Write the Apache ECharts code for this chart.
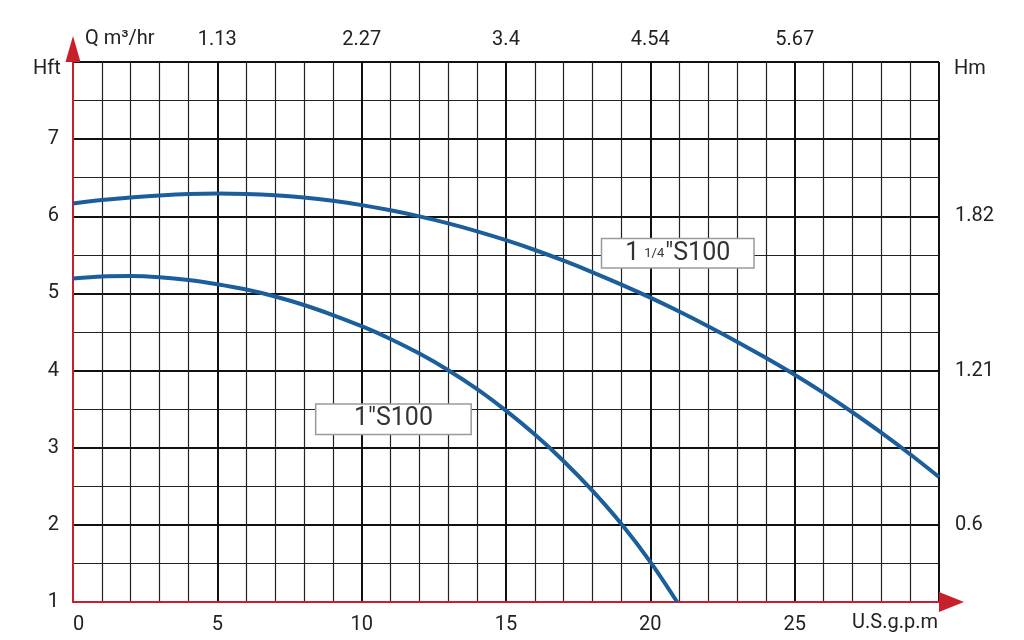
<!DOCTYPE html>
<html>
<head>
<meta charset="utf-8">
<script src="https://cdn.jsdelivr.net/npm/echarts@6/dist/echarts.min.js"></script>
<style>html,body{margin:0;padding:0;background:#fff;}#c{width:1024px;height:640px;}</style>
</head>
<body>
<div id="c"></div>
<script>
// ---- data ----
var flow1 = [0,1,2,3,4,5,6,7,8,9,10,11,12,13,14,15,16,17,18,19,20,21,22,23,24,25,26,27,28,29,30];
var head1 = [6.165,6.21,6.245,6.27,6.288,6.295,6.29,6.273,6.243,6.2,6.145,6.078,5.999,5.908,5.805,5.69,5.563,5.424,5.274,5.114,4.945,4.765,4.575,4.375,4.165,3.945,3.71,3.46,3.195,2.915,2.62];
var flow2 = [0,1,2,3,4,5,6,7,8,9,10,11,12,13,14,15,16,17,18,19,20,20.93];
var head2 = [5.195,5.22,5.225,5.21,5.175,5.12,5.05,4.96,4.85,4.72,4.575,4.41,4.22,4.005,3.76,3.48,3.17,2.825,2.44,2.01,1.52,1.0];
var seriesNames = ['1 1/4"S100', '1"S100'];
var labelX = [20.95, 11.1];
var labelY = [5.52, 3.37];
var bottomTicks = ['0','5','10','15','20','25',''];
var topTicks = ['','1.13','2.27','3.4','4.54','5.67',''];
var leftTicks = {1:'1',2:'2',3:'3',4:'4',5:'5',6:'6',7:'7',8:''};
var rightTicks = {2:'0.6',4:'1.21',6:'1.82'};
var xUnitBottom = 'U.S.g.p.m';
var xUnitTop = 'Q m³/hr';
var yUnitLeft = 'Hft';
var yUnitRight = 'Hm';

// ---- chart ----
var FONT = 'Roboto';
var TXT = '#222';
var RED = '#c8202a';
var BLUE = '#1b5e9b';
var chart = echarts.init(document.getElementById('c'), null, {renderer:'canvas'});

function pairs(xs, ys){ return xs.map(function(x,i){ return [x, ys[i]]; }); }

var labelStyle = {
  show: true, position: 'inside', color: '#333', fontFamily: FONT,
  backgroundColor: '#fff', borderColor: '#9a9a9a', borderWidth: 1.5,
  align: 'center', verticalAlign: 'middle',
  rich: {
    a: {fontSize: 25, fontFamily: FONT, color: '#333'},
    s: {fontSize: 13, fontFamily: FONT, color: '#333', padding: [0, 1, 0, 5]}
  }
};

var option = {
  backgroundColor: '#fff',
  animation: false,
  grid: {left: 73, right: 85, top: 62, bottom: 38},
  xAxis: [{
    type: 'value', position: 'bottom', min: 0, max: 30, interval: 5,
    axisLine: {show: true, lineStyle: {color: RED, width: 2}, symbol: ['none','triangle'], symbolSize: [20, 25], symbolOffset: [0, 12.5]},
    axisTick: {show: false},
    axisLabel: {margin: 13, fontSize: 20, fontFamily: FONT, color: TXT, alignMinLabel: 'left',
      formatter: function(v){ return bottomTicks[Math.round(v/5)]; }},
    splitLine: {show: true, lineStyle: {color: '#111', width: 2}},
    minorTick: {show: false, splitNumber: 5},
    minorSplitLine: {show: true, lineStyle: {color: '#222', width: 1.2}}
  }, {
    type: 'value', position: 'top', min: 0, max: 30, interval: 5,
    axisLine: {show: false}, axisTick: {show: false},
    axisLabel: {margin: 12, fontSize: 20, fontFamily: FONT, color: TXT,
      formatter: function(v){ return topTicks[Math.round(v/5)]; }},
    splitLine: {show: false}
  }],
  yAxis: [{
    type: 'value', position: 'left', min: 1, max: 8, interval: 1,
    axisLine: {show: true, lineStyle: {color: RED, width: 2}, symbol: ['none','triangle'], symbolSize: [15, 26], symbolOffset: [0, 13]},
    axisTick: {show: false},
    axisLabel: {margin: 14, fontSize: 20, fontFamily: FONT, color: TXT,
      formatter: function(v){ return leftTicks[v] || ''; }},
    splitLine: {show: true, lineStyle: {color: '#111', width: 2}},
    minorTick: {show: false, splitNumber: 2},
    minorSplitLine: {show: true, lineStyle: {color: '#222', width: 1.2}}
  }, {
    type: 'value', position: 'right', min: 1, max: 8, interval: 1,
    axisLine: {show: false}, axisTick: {show: false},
    axisLabel: {margin: 16, fontSize: 20, fontFamily: FONT, color: TXT,
      formatter: function(v){ return rightTicks[v] || ''; }},
    splitLine: {show: false}
  }],
  series: [{
    name: seriesNames[0], type: 'line', data: pairs(flow1, head1),
    smooth: 0.3, showSymbol: false, lineStyle: {color: BLUE, width: 4}, z: 5,
    markPoint: {
      symbol: 'rect', symbolSize: 1, itemStyle: {color: 'rgba(0,0,0,0)'},
      label: Object.assign({}, labelStyle, {width: 127, height: 26, padding: [1, 12, 1, 12], lineHeight: 26,
        formatter: '{a|1}{s|1/4}{a|″S100}'}),
      data: [{coord: [labelX[0], labelY[0]]}]
    }
  }, {
    name: seriesNames[1], type: 'line', data: pairs(flow2, head2),
    smooth: 0.3, showSymbol: false, lineStyle: {color: BLUE, width: 4}, z: 5,
    markPoint: {
      symbol: 'rect', symbolSize: 1, itemStyle: {color: 'rgba(0,0,0,0)'},
      label: Object.assign({}, labelStyle, {width: 130, height: 27, padding: [1, 12, 1, 12], lineHeight: 27,
        formatter: '{a|1″S100}'}),
      data: [{coord: [labelX[1], labelY[1]]}]
    }
  }],
  graphic: [
    {type: 'text', left: 85, top: 29, style: {text: xUnitTop, font: '20px ' + FONT, fill: TXT}},
    {type: 'text', left: 33, top: 59, style: {text: yUnitLeft, font: '20px ' + FONT, fill: TXT}},
    {type: 'text', left: 954, top: 59, style: {text: yUnitRight, font: '20px ' + FONT, fill: TXT}},
    {type: 'text', right: 86, top: 613, style: {text: xUnitBottom, font: '20px ' + FONT, fill: TXT}}
  ]
};
chart.setOption(option);
</script>
</body>
</html>
